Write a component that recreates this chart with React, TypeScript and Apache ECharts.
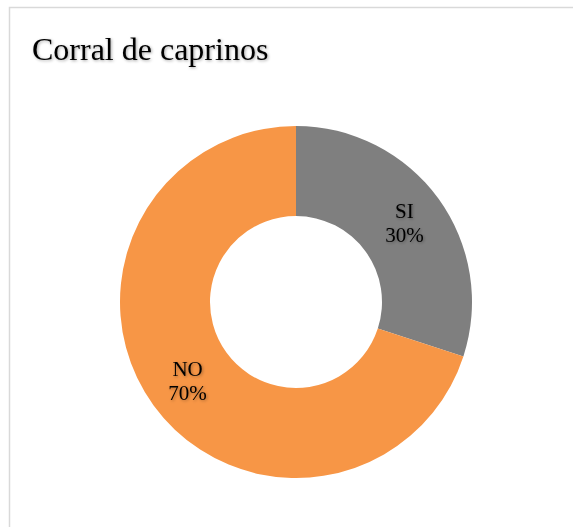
import React, { useEffect, useRef } from "react";
import * as echarts from "echarts";

const titleText = "Corral de caprinos";
const categories = ["SI", "NO"];
const values = [30, 70];
const colors = ["#7f7f7f", "#f79646"];

const FONT = '"Liberation Serif", "Times New Roman", serif';

export default function App() {
  const ref = useRef<HTMLDivElement>(null);
  useEffect(() => {
    if (!ref.current) return;
    const chart = echarts.init(ref.current, undefined, { renderer: "svg" });
    chart.setOption({
      animation: false,
      backgroundColor: "#ffffff",
      title: {
        text: titleText,
        left: 27,
        top: 28,
        textStyle: {
          fontFamily: FONT,
          fontSize: 32,
          fontWeight: "normal",
          color: "#000000",
          textShadowColor: "rgba(0,0,0,0.35)",
          textShadowBlur: 3,
          textShadowOffsetX: 1,
          textShadowOffsetY: 1,
        },
      },
      graphic: [
        {
          type: "rect",
          shape: { x: 9.5, y: 7.5, width: 700, height: 700 },
          style: { fill: "none", stroke: "#d9d9d9", lineWidth: 1.5 },
          silent: true,
          z: -1,
        },
      ],
      series: [
        {
          type: "pie",
          center: [296, 302],
          radius: [86, 176],
          startAngle: 90,
          clockwise: true,
          label: {
            show: true,
            position: "inside",
            formatter: "{b}\n{d}%",
            fontFamily: FONT,
            fontSize: 21,
            lineHeight: 24,
            color: "#000000",
            textShadowColor: "rgba(0,0,0,0.35)",
            textShadowBlur: 3,
            textShadowOffsetX: 1,
            textShadowOffsetY: 1,
          },
          labelLine: { show: false },
          itemStyle: { borderWidth: 0 },
          emphasis: { disabled: true },
          data: categories.map((c, i) => ({
            name: c,
            value: values[i],
            itemStyle: { color: colors[i] },
          })),
        },
      ],
    });
    return () => chart.dispose();
  }, []);
  return (
    <div
      ref={ref}
      style={{ position: "fixed", left: 0, top: 0, width: 573, height: 527 }}
    />
  );
}
